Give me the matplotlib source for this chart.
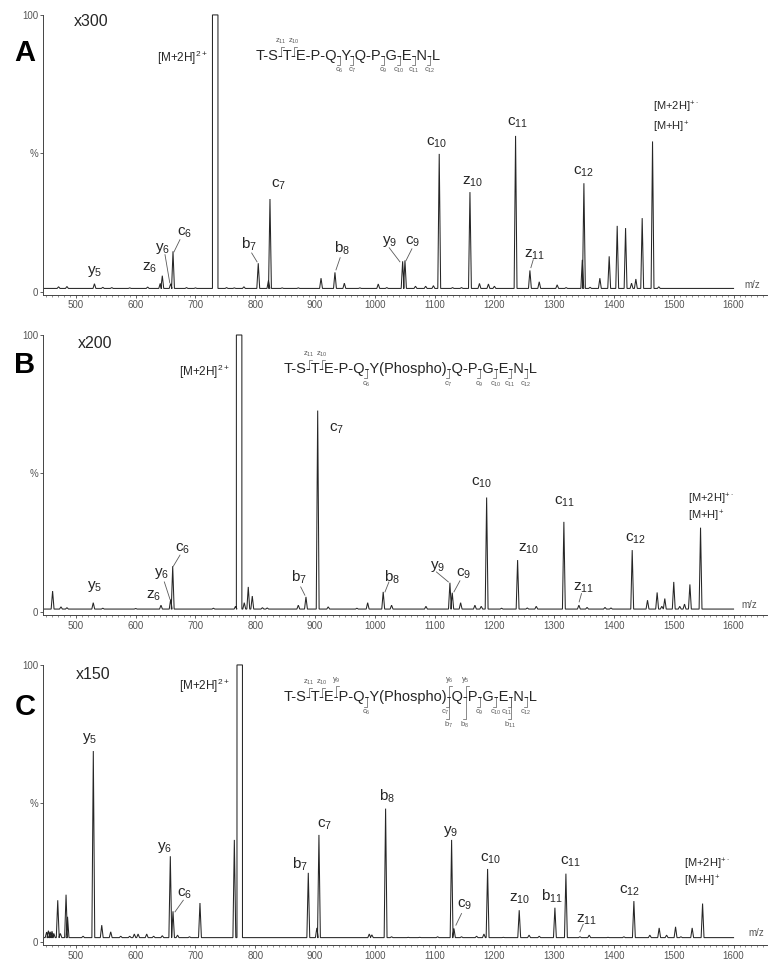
import numpy as np
import matplotlib
matplotlib.use("Agg")
import matplotlib.pyplot as plt
from matplotlib import transforms
from matplotlib.font_manager import FontProperties
from matplotlib.ticker import MultipleLocator

plt.rcParams['font.family'] = ['Liberation Sans', 'DejaVu Sans']
plt.rcParams['mathtext.fontset'] = 'custom'
plt.rcParams['mathtext.rm'] = 'Liberation Sans'
plt.rcParams['mathtext.it'] = 'Liberation Sans:italic'
plt.rcParams['mathtext.bf'] = 'Liberation Sans:bold'

# --- spectres : pics (m/z, intensite affichee en %) ---
MZ_A = [471, 485, 531, 545, 560, 590, 620, 641, 644.5, 658.5, 662.4, 685, 700, 733,
        752, 765, 781, 805, 822, 824.6, 845, 872, 910, 933.3, 949, 975, 1005.7, 1020,
        1046.5, 1050.4, 1068, 1085, 1098, 1107.7, 1130, 1145, 1159.1, 1175, 1190, 1200,
        1235.4, 1259.4, 1275, 1305, 1320, 1347, 1349.7, 1360, 1376.4, 1392, 1405.4,
        1419.4, 1429.4, 1436.6, 1447.2, 1464.5, 1475]
INT_A = [1.8, 1.9, 2.9, 1.6, 1.5, 1.4, 1.7, 3.0, 5.8, 2.9, 14.6, 1.5, 1.4, 30000,
         1.5, 1.4, 1.8, 10.3, 4.0, 33.5, 1.4, 1.4, 4.9, 7.0, 3.1, 1.4, 2.8, 1.5,
         11.0, 11.3, 2.0, 2.0, 2.2, 49.8, 1.5, 1.5, 36.0, 3.0, 2.8, 2.0,
         56.3, 7.7, 3.6, 2.5, 1.5, 11.5, 39.2, 1.6, 4.9, 12.8, 23.8,
         23.0, 3.1, 4.6, 26.6, 54.3, 1.8]

MZ_B = [461, 475, 485, 529, 545, 600, 642.3, 658.5, 661.9, 730, 767, 773, 781.6, 788.3,
        795, 812, 820, 872, 884.8, 904.4, 922, 970, 988, 1014, 1028, 1085.5, 1125.6,
        1129.5, 1143.5, 1167.4, 1178, 1187, 1212, 1238.8, 1255, 1270, 1316.2, 1341.3,
        1355, 1385, 1395, 1430.5, 1456.1, 1472.2, 1480, 1485, 1500, 1510, 1518, 1527,
        1544.8]
INT_B = [7.5, 1.8, 1.5, 3.3, 1.3, 1.2, 2.4, 4.5, 16.5, 1.3, 2.0, 20000, 3.3, 9.0,
         5.7, 1.5, 1.4, 2.4, 5.4, 72.7, 1.8, 1.3, 3.3, 7.2, 2.4, 2.0, 10.5,
         6.9, 3.3, 2.4, 2.0, 41.3, 1.3, 18.7, 1.4, 2.0, 32.5, 2.4,
         1.6, 1.6, 1.4, 22.3, 4.2, 7.0, 2.0, 4.8, 10.8, 2.0, 2.8, 9.9,
         30.4]

MZ_C = [451, 454, 457, 460, 463, 469.6, 474, 483.5, 486, 512, 529.1, 543.2, 558.2, 575,
        590, 597.7, 604, 618.4, 630, 644.5, 657.9, 662.4, 670, 690, 707.5, 765, 774,
        860, 888.7, 903, 906.5, 990.7, 995, 1018, 1028, 1055.9, 1075, 1105, 1128.4,
        1132.3, 1145, 1170.2, 1182.5, 1188.6, 1215, 1241.5, 1258, 1275, 1301.2, 1319.6,
        1343, 1358.6, 1390, 1416.6, 1433.3, 1460, 1475.6, 1488, 1503, 1512, 1530.8,
        1548.2]
INT_C = [3.5, 4.0, 3.6, 3.8, 3.0, 15.0, 3.0, 17.0, 9.0, 2.0, 68.9, 6.0, 3.6, 2.0,
         2.0, 2.8, 2.8, 2.8, 2.0, 2.2, 30.9, 11.0, 2.4, 1.8, 14.0, 36.8, 15000,
         1.5, 24.9, 5.0, 38.6, 2.8, 2.5, 48.1, 1.8, 1.6, 1.6, 1.8, 36.8,
         4.8, 1.8, 2.0, 2.8, 26.3, 1.6, 11.4, 2.4, 2.0, 12.3, 24.6,
         1.8, 2.4, 1.6, 1.8, 14.7, 2.4, 5.0, 2.4, 5.4, 1.8, 5.0,
         13.8]

BASE = {'A': 1.2, 'B': 1.0, 'C': 1.5}
ZOOM = {'A': 'x300', 'B': 'x200', 'C': 'x150'}

# etiquettes d'ions : (type, indice, m/z, intensite)
LAB_A = [('y', '5', 530.8, 7.3), ('z', '6', 624, 8.6), ('y', '6', 644.5, 15.8),
         ('c', '6', 682.5, 21.2), ('b', '7', 790, 17), ('c', '7', 838.5, 38.6),
         ('b', '8', 944.5, 15.8), ('y', '9', 1025, 18.2), ('c', '9', 1064, 18.2),
         ('c', '10', 1103, 53.7), ('z', '10', 1163.5, 39.8), ('c', '11', 1238, 60.9),
         ('z', '11', 1267.7, 13.4), ('c', '12', 1349.7, 43.4)]
LEAD_A = [((649, 13.4), (657, 3.2)), ((674, 18.8), (664, 14.4)), ((794, 14), (803, 10.8)),
          ((942, 12.3), (935, 7.9)), ((1024, 15.9), (1042, 10.8)),
          ((1062, 15.5), (1052, 11.2)), ((1265, 11.6), (1261, 8.7))]

LAB_B = [('y', '5', 530.8, 9.3), ('z', '6', 629.5, 5.7), ('y', '6', 643.5, 13.9),
         ('c', '6', 678.6, 22.9), ('b', '7', 873, 12.6), ('c', '7', 936, 66.2),
         ('b', '8', 1028, 12.6), ('y', '9', 1105, 16.5), ('c', '9', 1147.8, 13.9),
         ('c', '10', 1178.6, 46.6), ('z', '10', 1256.6, 22.9), ('c', '11', 1316.8, 39.7),
         ('z', '11', 1348.5, 8.7), ('c', '12', 1436, 26.5)]
LEAD_B = [((647.9, 10.8), (657.4, 4.5)), ((674.1, 20.5), (663, 16.5)), ((876, 9), (883, 6)),
          ((1023.6, 10.8), (1017, 7.2)), ((1103, 14.4), (1123, 10.8)),
          ((1142.3, 11.2), (1132.3, 7.2)), ((1345.7, 6.6), (1341.8, 3.6))]

LAB_C = [('y', '5', 523.6, 73.3), ('y', '6', 649, 34), ('c', '6', 682.5, 17.3),
         ('b', '7', 874.8, 28), ('c', '7', 916.6, 42.4), ('b', '8', 1019.7, 52.6),
         ('y', '9', 1127.3, 40), ('c', '9', 1150.7, 13.5), ('c', '10', 1194, 29.9),
         ('z', '10', 1242.6, 15.6), ('b', '11', 1295.6, 16.5), ('c', '11', 1328, 29),
         ('z', '11', 1354, 7.8), ('c', '12', 1426.6, 18.5)]
LEAD_C = [((679.6, 15), (665.7, 10.8)), ((1145, 10.2), (1135.6, 6)),
          ((1348.5, 6.3), (1343, 3.6))]

# ions precurseurs : (m/z bord, intensite)
M2H_POS = {'A': (721, 84.5), 'B': (758, 86.7), 'C': (758, 92.6)}
MH_POS = {'A': (1465, 66.6, 59.4), 'B': (1524, 40.6, 34.4), 'C': (1517, 27.8, 21.9)}
ZOOM_POS = {'A': (526, 97.6), 'B': (532, 96.9), 'C': (529, 96.4)}
LETTER_Y = {'A': 86.3, 'B': 89.0, 'C': 84.8}
MZLAB_POS = {'A': (1632, 2.5), 'B': (1627, 2.4), 'C': (1638, 3.0)}

# sequences et coupures (k = coupure apres le residu k)
SEQ_A = ['T', 'S', 'T', 'E', 'P', 'Q', 'Y', 'Q', 'P', 'G', 'E', 'N', 'L']
SEQ_P = ['T', 'S', 'T', 'E', 'P', 'Q', 'Y(Phospho)', 'Q', 'P', 'G', 'E', 'N', 'L']
UP_A = [(2, 'z', '11', 1), (3, 'z', '10', 1)]
DOWN_A = [(6, 'c', '6', 1), (7, 'c', '7', 1), (9, 'c', '9', 1), (10, 'c', '10', 1),
          (11, 'c', '11', 1), (12, 'c', '12', 1)]
UP_C = UP_A + [(4, 'y', '9', 2), (7, 'y', '6', 2), (8, 'y', '5', 2)]
DOWN_C = DOWN_A + [(7, 'b', '7', 2), (8, 'b', '8', 2), (11, 'b', '11', 2)]
PEP_POS = {'A': (801, 83.8), 'B': (846.8, 86.3), 'C': (846.8, 86.8)}

MZ_START, MZ_END = 446, 1600
INK = '#262626'
GREY = '#5a5a5a'
PEP_FS = 10.5


def profil(mz, inten, base, hw=2.4, hw_big=4.6):
    xs, ys = [MZ_START], [base]
    for m, h in sorted(zip(mz, inten)):
        if h > 100:
            f = (h - 100) / (h - base)
            xs += [m - hw_big, m - hw_big * f, m + hw_big * f, m + hw_big]
            ys += [base, 100, 100, base]
        else:
            xs += [m - hw, m, m + hw]
            ys += [base, h, base]
    xs.append(MZ_END)
    ys.append(base)
    return xs, ys


def ion(t, n):
    return t + r'$_{' + n + '}$'


def peptide(ax, residues, pos, up, down):
    fig = ax.figure
    tr = (transforms.Affine2D().scale(1 / 72) + fig.dpi_scale_trans
          + transforms.ScaledTranslation(pos[0], pos[1], ax.transData))
    ax.text(0, 0, '-'.join(residues), transform=tr, fontsize=PEP_FS,
            ha='left', va='baseline', color=INK, clip_on=False)
    rend = fig.canvas.get_renderer()
    prop = FontProperties(family=['Liberation Sans'], size=PEP_FS)
    wh = rend.get_text_width_height_descent('-', prop, ismath=False)[0]
    kx = {}
    for k in range(1, len(residues)):
        w = rend.get_text_width_height_descent('-'.join(residues[:k]) + '-', prop,
                                               ismath=False)[0]
        kx[k] = (w - wh / 2) * 72 / fig.dpi
    kw = dict(transform=tr, color=GREY, lw=0.5, clip_on=False)
    has_b = {k for k, t, n, lev in down if lev == 2}
    for k, t, n, lev in up:
        x = kx[k]
        top = 9.5 if lev == 1 else 11.0
        ax.plot([x, x, x + 2.2], [3.0, top, top], **kw)
        ax.text(x, top + 0.6, ion(t, n), transform=tr, fontsize=5.5, color=GREY,
                ha='center', va='bottom', clip_on=False)
    for k, t, n, lev in down:
        x = kx[k]
        bot = -4.0 if lev == 1 else -12.5
        ax.plot([x, x, x - 2.2], [3.0, bot, bot], **kw)
        dx = -3.2 if (lev == 1 and k in has_b) else -0.6
        ax.text(x + dx, bot - 0.6, ion(t, n), transform=tr, fontsize=5.5, color=GREY,
                ha='center', va='top', clip_on=False)


fig = plt.figure(figsize=(7.81, 9.67), dpi=100)
panels = [('A', MZ_A, INT_A, LAB_A, LEAD_A, SEQ_A, UP_A, DOWN_A, 0.695),
          ('B', MZ_B, INT_B, LAB_B, LEAD_B, SEQ_P, UP_A, DOWN_A, 0.364),
          ('C', MZ_C, INT_C, LAB_C, LEAD_C, SEQ_P, UP_C, DOWN_C, 0.0228)]

for key, mz, inten, labs, leads, seq, up, down, bottom in panels:
    ax = fig.add_axes([0.0551, bottom, 0.927, 0.291])
    ax.set_xlim(445, 1656)
    ax.set_ylim(-1.15, 100.5)
    xs, ys = profil(mz, inten, BASE[key])
    ax.plot(xs, ys, color=INK, lw=0.75, solid_joinstyle='miter')

    for sp in ('top', 'right'):
        ax.spines[sp].set_visible(False)
    for sp in ('left', 'bottom'):
        ax.spines[sp].set_color('#444444')
        ax.spines[sp].set_linewidth(0.7)
    ax.spines['left'].set_bounds(-1.15, 100)
    ax.set_yticks([0, 50, 100])
    ax.set_yticklabels(['0', '%', '100'])
    ax.xaxis.set_major_locator(MultipleLocator(100))
    ax.xaxis.set_minor_locator(MultipleLocator(10))
    ax.set_xticks(np.arange(500, 1700, 100))
    ax.tick_params(axis='both', which='major', labelsize=7, labelcolor='#555555',
                   color='#444444', length=2.5, width=0.6, pad=1.5)
    ax.tick_params(axis='x', which='minor', color='#666666', length=1.3, width=0.5)
    ax.tick_params(axis='y', pad=1)
    ax.patch.set_visible(False)

    for t, n, x, y in labs:
        ax.text(x, y, ion(t, n), fontsize=11, color=INK, ha='center', va='center')
    for (x1, y1), (x2, y2) in leads:
        ax.plot([x1, x2], [y1, y2], color=GREY, lw=0.6)

    x, y = M2H_POS[key]
    ax.text(x, y, r'[M+2H]$^{2+}$', fontsize=8.5, color=INK, ha='right', va='center')
    x, y1, y2 = MH_POS[key]
    ax.text(x, y1, r'[M+2H]$^{+\cdot}$', fontsize=8, color=INK, ha='left', va='center')
    ax.text(x, y2, r'[M+H]$^{+}$', fontsize=8, color=INK, ha='left', va='center')
    x, y = ZOOM_POS[key]
    ax.text(x, y, ZOOM[key], fontsize=11.5, color=INK, ha='center', va='center')
    x, y = MZLAB_POS[key]
    ax.text(x, y, 'm/z', fontsize=7, color='#555555', ha='center', va='center')
    ax.text(-0.025, LETTER_Y[key], key, transform=ax.get_yaxis_transform(),
            fontsize=21, fontweight='bold', color='black', ha='center', va='center')

    peptide(ax, seq, PEP_POS[key], up, down)

fig.savefig('out.png', dpi=100, facecolor='white')
